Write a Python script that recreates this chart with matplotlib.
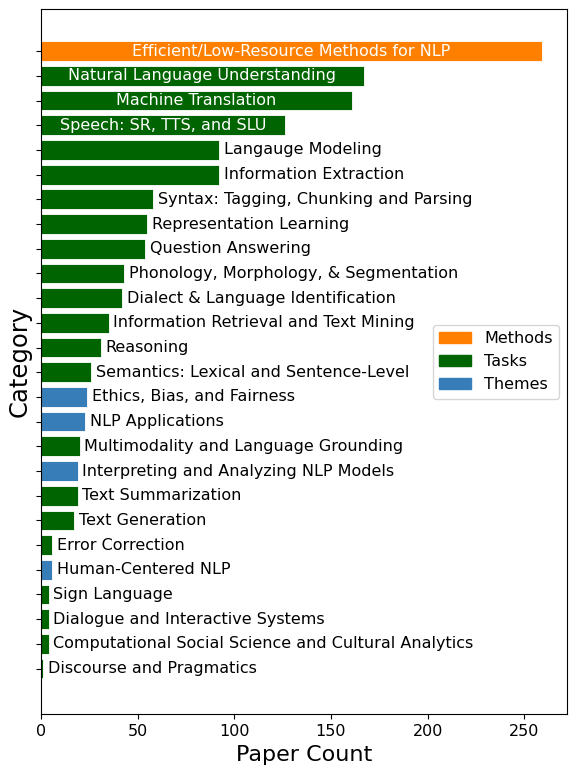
import matplotlib.pyplot as plt
from matplotlib.patches import Patch

# Catégories (du haut vers le bas) et nombre d'articles
categories = [
    "Efficient/Low-Resource Methods for NLP",
    "Natural Language Understanding",
    "Machine Translation",
    "Speech: SR, TTS, and SLU",
    "Langauge Modeling",
    "Information Extraction",
    "Syntax: Tagging, Chunking and Parsing",
    "Representation Learning",
    "Question Answering",
    "Phonology, Morphology, & Segmentation",
    "Dialect & Language Identification",
    "Information Retrieval and Text Mining",
    "Reasoning",
    "Semantics: Lexical and Sentence-Level",
    "Ethics, Bias, and Fairness",
    "NLP Applications",
    "Multimodality and Language Grounding",
    "Interpreting and Analyzing NLP Models",
    "Text Summarization",
    "Text Generation",
    "Error Correction",
    "Human-Centered NLP",
    "Sign Language",
    "Dialogue and Interactive Systems",
    "Computational Social Science and Cultural Analytics",
    "Discourse and Pragmatics",
]
counts = [259, 167, 161, 126, 92, 92, 58, 55, 54, 43, 42, 35, 31, 26,
          24, 23, 20, 19, 19, 17, 6, 6, 4, 4, 4, 1]
groups = ["Methods", "Tasks", "Tasks", "Tasks", "Tasks", "Tasks", "Tasks",
          "Tasks", "Tasks", "Tasks", "Tasks", "Tasks", "Tasks", "Tasks",
          "Themes", "Themes", "Tasks", "Themes", "Tasks", "Tasks", "Tasks",
          "Themes", "Tasks", "Tasks", "Tasks", "Tasks"]

group_colors = {"Methods": "#ff7f00", "Tasks": "#006400", "Themes": "#377eb8"}

n = len(categories)
positions = [n - 1 - i for i in range(n)]

fig, ax = plt.subplots(figsize=(5.76, 7.68), dpi=100)
fig.subplots_adjust(left=0.071, right=0.984, top=0.988, bottom=0.07)

colors = [group_colors[g] for g in groups]
ax.barh(positions, counts, height=0.8, color=colors, edgecolor="white", linewidth=0.6)

xmax = max(counts) * 1.05
for pos, c, name in zip(positions, counts, categories):
    if c > 100:
        ax.text(c / 2, pos, name, ha="center", va="center", color="white", fontsize=11.5)
    else:
        ax.text(c + 2.5, pos, name, ha="left", va="center", color="black", fontsize=11.5)

ax.set_xlim(0, xmax)
ax.set_ylim(-1.85, n - 1 + 1.7)
ax.set_yticks(positions)
ax.set_yticklabels([])
ax.tick_params(axis="x", labelsize=11.5)

ax.set_xlabel("Paper Count", fontsize=16)
ax.set_ylabel("Category", fontsize=17.5, labelpad=0)

handles = [Patch(color=group_colors[g], label=g) for g in ["Methods", "Tasks", "Themes"]]
ax.legend(handles=handles, loc="center right", fontsize=11.5)

plt.savefig("out.png")
